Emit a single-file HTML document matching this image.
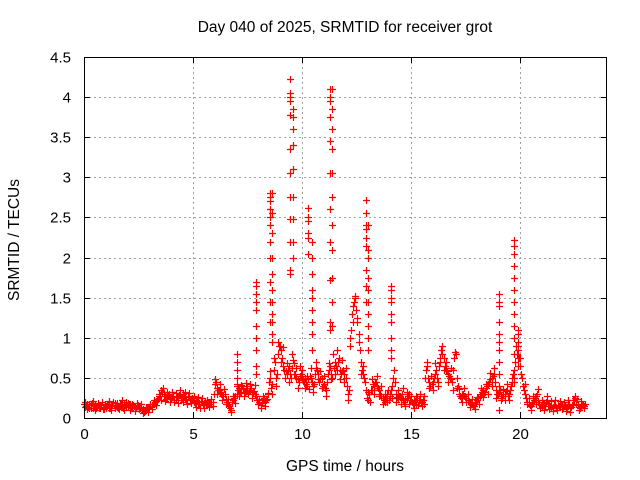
<!DOCTYPE html>
<html><head><meta charset="utf-8"><style>
body{margin:0;background:#fff;}
svg{display:block;font-family:"Liberation Sans",sans-serif;}
</style></head><body>
<svg id="chart" width="640" height="480" viewBox="0 0 640 480">
<rect width="640" height="480" fill="#fff"/>
<text x="345" y="32" font-size="15.5" text-anchor="middle" fill="#000">Day 040 of 2025, SRMTID for receiver grot</text>
<text x="345" y="471" font-size="15.5" text-anchor="middle" fill="#000">GPS time / hours</text>
<text x="19" y="240" font-size="15.5" text-anchor="middle" fill="#000" transform="rotate(-90 19 240)">SRMTID / TECUs</text>
<g id="grid"></g>
<g id="ticks"></g>
<g id="marks"></g>
<rect x="84.5" y="57.5" width="522" height="361" fill="none" stroke="#000" stroke-width="1"/>
</svg>
<script>
const xTicks=[0,5,10,15,20];
const yTicks=[0,0.5,1,1.5,2,2.5,3,3.5,4,4.5];
const yTickLabels=["0","0.5","1","1.5","2","2.5","3","3.5","4","4.5"];
const baseStart=0, baseStep=0.1;
const baseValues=[
.17,.15,.14,.16,.13,.18,.15,.12,.16,.14,
.15,.17,.13,.16,.19,.14,.15,.18,.13,.16,
.14,.17,.12,.15,.13,.16,.14,.11,.09,.12,
.13,.15,.18,.21,.24,.28,.32,.27,.25,.30,
.24,.27,.22,.26,.30,.25,.28,.22,.26,.24,
.22,.19,.21,.17,.20,.18,.16,.19,.17,.20,
.42,.38,.35,.30,.28,.24,.18,.12,.20,.25,
.30,.38,.33,.36,.32,.40,.35,.30,.34,.28,
.18,.16,.22,.20,.24,.45,.38,.60,.50,.80,
.90,.75,.60,.55,.65,.50,.72,.55,.48,.52,
.50,.45,.42,.48,.50,.40,.55,.60,.45,.50,
.42,.35,.55,.65,.50,.70,.60,.75,.55,.60,
.50,.30,.90,1.30,1.45,1.35,.95,.70,.55,.45,
.25,.30,.35,.40,.45,.38,.30,.25,.20,.30,
.22,.35,.50,.30,.25,.28,.30,.20,.25,.30,
.22,.18,.20,.25,.22,.20,.18,.60,.50,.40,
.45,.55,.50,.65,.85,.75,.60,.55,.50,.45,
.75,.50,.30,.25,.30,.28,.22,.20,.18,.15,
.20,.25,.30,.35,.32,.40,.45,.50,.55,.35,
.30,.35,.25,.30,.35,.30,.40,.55,.70,.90,
.65,.50,.35,.25,.18,.15,.20,.25,.30,.18,
.15,.18,.20,.17,.15,.14,.16,.13,.15,.17,
.14,.13,.15,.12,.16,.22,.18,.14,.15,.16,
.17];
const altStart=0.05;
const altValues=[
.14,.18,.12,.19,.15,.13,.17,.16,.11,.17,
.18,.13,.16,.20,.15,.12,.18,.14,.17,.15,
.17,.13,.16,.12,.16,.13,.10,.08,.11,.14,
.15,.17,.20,.23,.27,.35,.30,.24,.29,.26,
.28,.23,.26,.29,.22,.30,.24,.27,.22,.25,
.20,.22,.18,.21,.16,.21,.19,.17,.20,.30,
.45,.35,.32,.27,.30,.20,.15,.10,.23,.28,
.35,.33,.40,.31,.37,.34,.38,.33,.30,.22,
.20,.19,.25,.22,.30,.50,.42,.70,.55,.90,
.85,.65,.58,.60,.55,.62,.68,.50,.45,.55,
.47,.50,.40,.52,.45,.42,.62,.55,.48,.40,
.38,.45,.60,.55,.62,.65,.70,.60,.58,.55,
.40,.35,1.10,1.40,1.50,1.20,.85,.60,.50,.35,
.22,.35,.42,.45,.40,.35,.28,.22,.25,.35,
.28,.40,.45,.26,.28,.25,.22,.24,.28,.22,
.20,.22,.17,.23,.20,.22,.50,.65,.45,.42,
.50,.60,.45,.70,.80,.65,.58,.52,.48,.60,
.80,.40,.28,.30,.27,.25,.20,.18,.16,.18,
.22,.28,.32,.30,.38,.42,.48,.52,.45,.30,
.32,.28,.30,.34,.28,.35,.45,.60,.80,.75,
.55,.40,.30,.20,.16,.18,.22,.28,.20,.16,
.17,.15,.22,.15,.13,.16,.14,.16,.14,.15,
.15,.12,.17,.14,.18,.25,.16,.13,.17,.15];
const thirdStart=0.025;
const thirdValues=[
.20,.11,.18,.12,.21,.10,.19,.13,.20,.11,
.12,.21,.10,.20,.12,.19,.11,.22,.10,.20,
.19,.10,.18,.09,.19,.11,.17,.06,.14,.08,
.18,.11,.23,.16,.30,.22,.38,.21,.33,.20,
.32,.20,.31,.19,.35,.20,.33,.18,.31,.19,
.27,.14,.26,.13,.25,.13,.23,.14,.24,.15,
.48,.30,.42,.22,.36,.17,.24,.07,.27,.19,
.42,.28,.41,.27,.44,.30,.43,.25,.41,.22,
.24,.12,.28,.15,.31,.58,.30,.75,.40,.95,
.70,.88,.50,.68,.45,.80,.55,.62,.38,.65,
.60,.38,.52,.36,.62,.33,.70,.48,.58,.38,
.52,.28,.68,.48,.80,.55,.85,.48,.72,.45,
.62,.22,1.00,1.20,1.52,1.25,1.05,.55,.65,.35,
.32,.20,.48,.30,.52,.28,.40,.18,.30,.20,
.30,.25,.60,.20,.35,.18,.38,.15,.32,.18,
.28,.13,.27,.16,.30,.15,.28,.70,.38,.52,
.35,.68,.40,.75,.90,.60,.70,.45,.62,.35,
.82,.38,.36,.20,.38,.20,.30,.14,.24,.11,
.26,.18,.38,.26,.42,.30,.56,.40,.62,.25,
.40,.22,.36,.22,.42,.22,.50,.45,.90,.65,
.75,.40,.42,.18,.25,.10,.28,.18,.36,.12,
.22,.10,.27,.11,.21,.09,.22,.10,.21,.11,
.20,.09,.22,.08,.23,.28,.24,.10,.21,.12];
const spikeT=[
7.0,7.0,7.0,7.0,7.0,
7.9,7.9,7.9,7.9,7.9,7.9,7.9,7.9,7.9,7.9,
8.55,8.55,8.55,8.55,8.55,8.55,8.55,8.55,8.55,8.55,8.55,
8.65,8.65,8.65,8.65,8.65,8.65,8.65,8.65,8.65,8.65,8.65,
9.45,9.45,9.45,9.45,9.45,9.45,9.45,9.45,9.45,9.45,9.45,9.45,
9.6,9.6,9.6,9.6,9.6,9.6,9.6,9.6,9.6,
10.3,10.3,10.3,10.3,10.3,10.3,
10.45,10.45,10.45,10.45,10.45,10.45,10.45,10.45,10.45,
11.3,11.3,11.3,11.3,11.3,11.3,11.3,11.3,11.3,11.3,11.3,
11.4,11.4,11.4,11.4,11.4,11.4,11.4,11.4,11.4,11.4,11.4,
12.95,12.95,12.95,12.95,12.95,12.95,12.95,12.95,12.95,
13.05,13.05,13.05,13.05,13.05,13.05,13.05,13.05,13.05,13.05,
14.1,14.1,14.1,14.1,14.1,14.1,14.1,14.1,14.1,
19.05,19.05,19.05,19.05,19.05,19.05,19.05,19.05,19.05,19.05,
19.75,19.75,19.75,19.75,19.75,19.75,19.75,19.75,19.75,19.75,19.75,19.75,
19.9,19.9,19.9,19.9,19.9,19.9];
const spikeV=[
.8,.7,.6,.5,.4,
1.7,1.65,1.55,1.45,1.35,1.15,1.0,.85,.65,.55,
2.8,2.75,2.7,2.6,2.5,2.4,2.2,2.0,1.7,1.45,1.2,
2.8,2.55,2.3,2.0,1.8,1.6,1.45,1.3,1.2,1.05,.95,
4.23,4.05,4.0,3.95,3.78,3.35,3.05,2.75,2.48,2.2,1.85,1.8,
3.85,3.75,3.6,3.4,3.1,2.75,2.48,2.2,2.0,
2.62,2.5,2.45,2.3,2.25,2.05,
2.2,2.0,1.8,1.6,1.5,1.35,1.2,1.05,.85,
4.1,4.0,3.95,3.75,3.45,3.05,2.6,2.2,1.72,1.2,1.1,
4.1,3.85,3.6,3.35,3.05,2.75,2.4,2.1,1.75,1.45,1.15,
2.72,2.55,2.4,2.35,2.25,2.15,1.85,1.65,1.45,
2.4,2.1,2.0,1.75,1.6,1.45,1.3,1.15,1.0,.85,
1.65,1.6,1.5,1.45,1.3,1.2,1.0,.85,.75,
1.55,1.45,1.4,1.2,1.05,.95,.85,.7,.55,.1,
2.22,2.15,2.05,1.9,1.75,1.6,1.45,1.3,1.15,1.0,.8,.5,
1.1,1.05,.95,.85,.75,.65];

const L=84,R=607,T=57,B=418,XMAX=24,YMAX=4.5;
function xs(v){return L+(R-L)*v/XMAX;}
function ys(v){return B-(B-T)*v/YMAX;}
const NS="http://www.w3.org/2000/svg";
function mk(tag,attrs,parent){const e=document.createElementNS(NS,tag);for(const k in attrs)e.setAttribute(k,attrs[k]);parent.appendChild(e);return e;}
const grid=document.getElementById('grid'),ticks=document.getElementById('ticks'),marks=document.getElementById('marks');
xTicks.forEach(function(t){
  const x=Math.round(xs(t))+0.5;
  if(t>0){const g=mk('line',{x1:x,x2:x,y1:T,y2:B,stroke:'#a0a0a0','stroke-dasharray':'2,3'},grid);
  
  }
  mk('line',{x1:x,x2:x,y1:B,y2:B-6,stroke:'#000'},ticks);
  mk('line',{x1:x,x2:x,y1:T,y2:T+6,stroke:'#000'},ticks);
  const lb=mk('text',{x:x,y:B+21,'font-size':15,'text-anchor':'middle',fill:'#000'},ticks);
  lb.textContent=String(t);
  
  
});
yTicks.forEach(function(t,i){
  const y=Math.round(ys(t))+0.5;
  if(t>0&&t<YMAX){const g=mk('line',{x1:L,x2:R,y1:y,y2:y,stroke:'#a0a0a0','stroke-dasharray':'2,3'},grid);
  
  }
  mk('line',{x1:L,x2:L+6,y1:y,y2:y,stroke:'#000'},ticks);
  mk('line',{x1:R,x2:R-6,y1:y,y2:y,stroke:'#000'},ticks);
  const lb=mk('text',{x:L-13,y:y+5,'font-size':15,'text-anchor':'end',fill:'#000'},ticks);
  lb.textContent=yTickLabels[i];
  
  
});
let d='';
function plus(t,v){const x=Math.round(xs(t))+0.5,y=Math.round(ys(v))+0.5;d+='M'+(x-3.5)+' '+y+'h7M'+x+' '+(y-3.5)+'v7';}
baseValues.forEach(function(v,i){plus(baseStart+i*baseStep,v);});
altValues.forEach(function(v,i){plus(altStart+i*baseStep,v);});
thirdValues.forEach(function(v,i){plus(thirdStart+i*baseStep,v);});
spikeT.forEach(function(t,i){plus(t,spikeV[i]);});
const p=mk('path',{d:d,stroke:'#ff0000','stroke-width':1.2,fill:'none'},marks);


</script>
</body></html>
